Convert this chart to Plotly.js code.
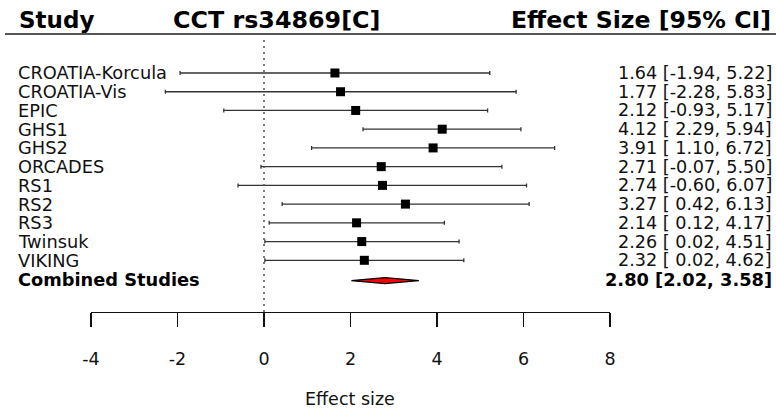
<!DOCTYPE html>
<html>
<head>
<meta charset="utf-8">
<script src="https://cdn.plot.ly/plotly-3.0.1.min.js"></script>
<style>html,body{margin:0;padding:0;background:#fff;}#chart{width:776px;height:412px;}</style>
</head>
<body>
<div id="chart"></div>
<script>
const studies = ["CROATIA-Korcula","CROATIA-Vis","EPIC","GHS1","GHS2","ORCADES","RS1","RS2","RS3","Twinsuk","VIKING"];
const estimates = [1.64, 1.77, 2.12, 4.12, 3.91, 2.71, 2.74, 3.27, 2.14, 2.26, 2.32];
const lower = [-1.94, -2.28, -0.93, 2.29, 1.10, -0.07, -0.60, 0.42, 0.12, 0.02, 0.02];
const upper = [5.22, 5.83, 5.17, 5.94, 6.72, 5.50, 6.07, 6.13, 4.17, 4.51, 4.62];
const combinedLabel = "Combined Studies";
const combinedEst = 2.80, combinedLo = 2.02, combinedHi = 3.58;
const tickVals = [-4, -2, 0, 2, 4, 6, 8];
const headerLeft = "Study", headerMid = "CCT rs34869[C]", headerRight = "Effect Size [95% CI]";
const xTitle = "Effect size";

const W = 776, H = 412;
const rows = studies.map((_, i) => i);
const combRow = studies.length;
const fmtLo = v => (v < 0 ? "" : " ") + v.toFixed(2);
const ciText = studies.map((_, i) => estimates[i].toFixed(2) + " [" + fmtLo(lower[i]) + ", " + upper[i].toFixed(2) + "]");

const font = "DejaVu Sans, sans-serif";
const dh = 0.16, dc = combRow + 0.08;
const traces = [
  {
    type: "scatter", mode: "markers", x: estimates, y: rows,
    marker: {symbol: "square", size: 9, color: "#000"},
    error_x: {type: "data", symmetric: false,
      array: estimates.map((e, i) => upper[i] - e),
      arrayminus: estimates.map((e, i) => e - lower[i]),
      color: "#333", thickness: 1.3, width: 2},
    hoverinfo: "skip", showlegend: false
  },
  {
    type: "scatter", mode: "lines", fill: "toself",
    x: [combinedLo, combinedEst, combinedHi, combinedEst, combinedLo],
    y: [dc, dc - dh, dc, dc + dh, dc],
    fillcolor: "#ff0000", line: {color: "#000", width: 1.2},
    hoverinfo: "skip", showlegend: false
  }
];

const pxX = p => p / W, pxY = p => (H - p) / H;
const annotations = [];
studies.forEach((s, i) => {
  annotations.push({xref: "paper", yref: "y", x: pxX(16), y: i, text: s, showarrow: false, xanchor: "left", yanchor: "middle", font: {family: font, size: 17.8, color: "#111"}});
  annotations.push({xref: "paper", yref: "y", x: pxX(774), y: i, text: ciText[i], showarrow: false, xanchor: "right", yanchor: "middle", font: {family: font, size: 17.6, color: "#111"}});
});
annotations.push({xref: "paper", yref: "y", x: pxX(16), y: combRow, text: "<b>" + combinedLabel + "</b>", showarrow: false, xanchor: "left", yanchor: "middle", font: {family: font, size: 17.8, color: "#000"}});
annotations.push({xref: "paper", yref: "y", x: pxX(774), y: combRow, text: "<b>" + combinedEst.toFixed(2) + " [" + combinedLo.toFixed(2) + ", " + combinedHi.toFixed(2) + "]</b>", showarrow: false, xanchor: "right", yanchor: "middle", font: {family: font, size: 17.8, color: "#000"}});
annotations.push({xref: "paper", yref: "paper", x: pxX(17), y: pxY(20), text: "<b>" + headerLeft + "</b>", showarrow: false, xanchor: "left", yanchor: "middle", font: {family: font, size: 23, color: "#000"}});
annotations.push({xref: "paper", yref: "paper", x: pxX(276.5), y: pxY(20), text: "<b>" + headerMid + "</b>", showarrow: false, xanchor: "center", yanchor: "middle", font: {family: font, size: 23.8, color: "#000"}});
annotations.push({xref: "paper", yref: "paper", x: pxX(773), y: pxY(20), text: "<b>" + headerRight + "</b>", showarrow: false, xanchor: "right", yanchor: "middle", font: {family: font, size: 23.6, color: "#000"}});
annotations.push({xref: "paper", yref: "paper", x: pxX(350), y: pxY(399), text: xTitle, showarrow: false, xanchor: "center", yanchor: "middle", font: {family: font, size: 17.5, color: "#111"}});

const r0 = 73, rs = 18.73;
const yTop = 35, yBot = 312;
const layout = {
  width: W, height: H,
  margin: {l: 0, r: 0, t: 0, b: 0, pad: 0},
  paper_bgcolor: "#fff", plot_bgcolor: "#fff",
  showlegend: false,
  xaxis: {
    range: [-4, 8], domain: [pxX(91), pxX(610)],
    tickvals: tickVals, ticktext: tickVals.map(String),
    showgrid: false, zeroline: false, showline: true, linecolor: "#111", linewidth: 1.2,
    ticks: "outside", ticklen: 14, tickcolor: "#111", tickwidth: 1.2,
    ticklabelstandoff: 17,
    tickfont: {family: font, size: 17.5, color: "#111"}
  },
  yaxis: {
    range: [(yBot - r0) / rs, (yTop - r0) / rs],
    domain: [pxY(yBot), pxY(yTop)],
    showgrid: false, zeroline: false, showline: false, showticklabels: false, ticks: ""
  },
  shapes: [
    {type: "line", xref: "paper", yref: "paper", x0: pxX(5), x1: 1, y0: pxY(34), y1: pxY(34), line: {color: "#555", width: 2}},
    {type: "line", xref: "x", yref: "paper", x0: 0, x1: 0, y0: pxY(yBot), y1: pxY(36), line: {color: "#555", width: 1.5, dash: "2px,4px"}}
  ],
  annotations: annotations
};
Plotly.newPlot("chart", traces, layout, {staticPlot: true, displayModeBar: false});
</script>
</body>
</html>
